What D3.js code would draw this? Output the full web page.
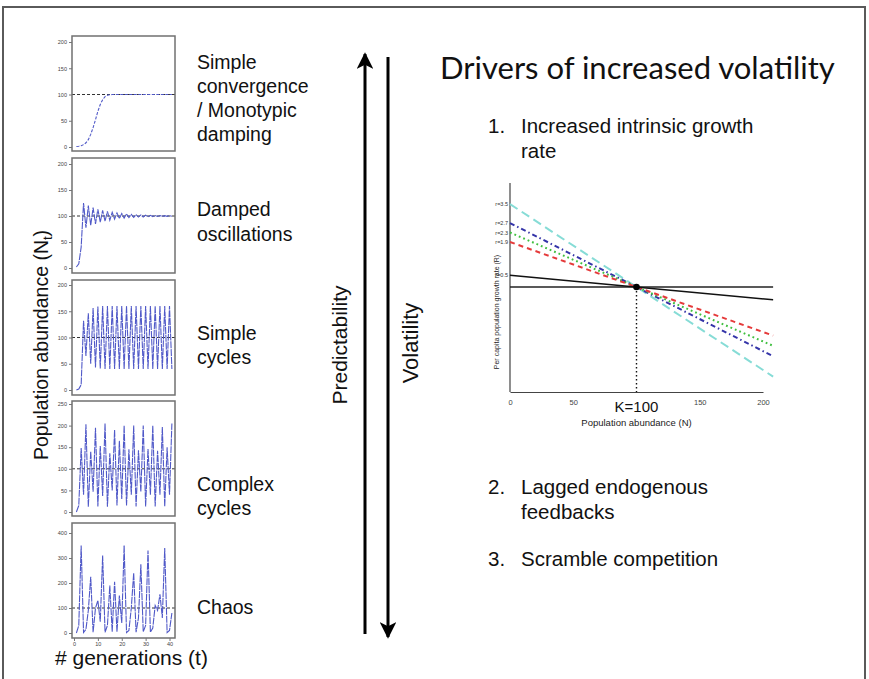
<!DOCTYPE html>
<html><head><meta charset="utf-8">
<script src="https://cdn.jsdelivr.net/npm/d3@7"></script>
<style>body{margin:0;background:#fff}svg{display:block}</style>
</head><body>
<script>
// ---------- DATA ----------
const generations = d3.range(1, 42); // t = 1..41
const convergence = [1,1.5,2.5,4.5,8,14,24,37,52,68,81,90,96,98.5,99.5,100,100,100,100,100,100,100,100,100,100,100,100,100,100,100,100,100,100,100,100,100,100,100,100,100,100];
const damped = [2,8,40,125,77.5,120,82,116,85,113,88,111,90,109,92,107,94,106,95,105,96,104,97,103,97.3,102.5,98,102,98.2,101.6,98.6,101.3,98.9,101,99.1,100.8,99.3,100.7,99.4,100.5,99.5];
const simpleCycles = [0,2,10,132,65,146,50,156,43,159,41,160,40,160,40,160,40,160,40,160,40,160,40,160,40,160,40,160,40,160,40,160,40,160,40,160,40,160,40,160,40];
const complexCycles = [0,15,148,40,203,12,140,47,195,13,153,37,205,12,136,50,190,15,165,30,200,15,145,40,200,13,143,47,200,13,146,40,200,13,142,40,197,13,150,40,205];
const chaos = [0,30,350,2,15,90,225,3,100,130,45,310,3,30,190,5,205,5,150,40,350,2,10,100,240,3,60,275,5,30,330,3,20,110,90,155,60,340,2,10,80];
const panelSeries = [convergence, damped, simpleCycles, complexCycles, chaos];
const panelLabels = [["Simple","convergence","/ Monotypic","damping"],["Damped","oscillations"],["Simple","cycles"],["Complex","cycles"],["Chaos"]];
const panelTicks = [[0,50,100,150,200],[0,50,100,150,200],[0,50,100,150,200],[0,50,100,150,200,250],[0,100,200,300,400]];
const panelTickMax = [200,200,200,250,400];
const equilibrium = 100;
const genTicks = [0,10,20,30,40];

// right chart
const growthRates = [3.5, 2.7, 2.3, 1.9, 0.5];
const rLabels = ["r=3.5","r=2.7","r=2.3","r=1.9","r=0.5"];
const lineN = [0, 208];
const lineR = {3.5:[3.5,-3.78], 2.7:[2.7,-2.92], 2.3:[2.3,-2.48], 1.9:[1.9,-2.05], 0.5:[0.5,-0.54]};
const K = 100;
const nTicks = [0,50,100,150,200];
const drivers = [["1.",["Increased intrinsic growth","rate"]],["2.",["Lagged endogenous","feedbacks"]],["3.",["Scramble competition"]]];

// ---------- STYLE / LAYOUT ----------
const W = 869, H = 679;
const FONT = "'Liberation Sans', Arial, Helvetica, sans-serif";
const svg = d3.select("body").append("svg").attr("width", W).attr("height", H)
  .style("font-family", FONT);

svg.append("rect").attr("x",3).attr("y",7).attr("width",862).attr("height",720)
  .attr("fill","none").attr("stroke","#5a5a5a").attr("stroke-width",2);

// panel layout: [boxTop, boxBottom, yTopTick, yZero]
const panelLayout = [[36,151,42,147],[158,273,164,268],[280,395,285,390],[401,516,404,512],[523,638,533,633]];
const labelBaselines = [[69,93,117,141],[216,241],[340,364],[491,515],[614]];
const boxLeft = 72, boxRight = 175;
const x = d3.scaleLinear().domain([0,40]).range([74,169.5]);

panelSeries.forEach((vals, i) => {
  const [bt, bb, yt, y0] = panelLayout[i];
  const y = d3.scaleLinear().domain([0, panelTickMax[i]]).range([y0, yt]);
  const g = svg.append("g");
  const ax = d3.axisLeft(y).tickValues(panelTicks[i]).tickSize(3).tickPadding(2);
  const axg = g.append("g").attr("transform", `translate(${boxLeft},0)`).call(ax);
  axg.select(".domain").remove();
  axg.selectAll("line").attr("stroke","#777");
  axg.selectAll("text").attr("font-size",5.5).attr("fill","#444").style("font-family",FONT);
  g.append("line").attr("x1",boxLeft).attr("x2",boxRight).attr("y1",y(equilibrium)).attr("y2",y(equilibrium))
    .attr("stroke","#333").attr("stroke-width",1).attr("stroke-dasharray","3,2");
  const line = d3.line().x((d,j)=>x(generations[j])).y(d=>y(d));
  g.append("path").datum(vals).attr("d", line).attr("fill","none")
    .attr("stroke","#5059c8").attr("stroke-width",1.1).attr("stroke-dasharray", i===0 ? "3,1.5" : "7,0.8");
  g.append("rect").attr("x",boxLeft).attr("y",bt).attr("width",boxRight-boxLeft).attr("height",bb-bt)
    .attr("fill","none").attr("stroke","#707070").attr("stroke-width",1.5);
  panelLabels[i].forEach((t,k)=>{
    svg.append("text").attr("x",197).attr("y",labelBaselines[i][k]).attr("font-size",19.5).attr("fill","#111").text(t);
  });
});
{
  const ax = d3.axisBottom(x).tickValues(genTicks).tickSize(3).tickPadding(1);
  const axg = svg.append("g").attr("transform",`translate(0,${panelLayout[4][1]})`).call(ax);
  axg.select(".domain").remove();
  axg.selectAll("line").attr("stroke","#777");
  axg.selectAll("text").attr("font-size",5.5).attr("fill","#444").style("font-family",FONT);
}
svg.append("text").attr("x",55).attr("y",665).attr("font-size",21).attr("fill","#111").text("# generations (t)");
{
  const t = svg.append("text").attr("transform","translate(48,345) rotate(-90)").attr("text-anchor","middle")
    .attr("font-size",19.5).attr("fill","#111");
  t.append("tspan").text("Population abundance (N");
  t.append("tspan").attr("font-size",13).attr("dy",4).text("t");
  t.append("tspan").attr("dy",-4).text(")");
}

// arrows
svg.append("defs").html(`
<marker id="ah" viewBox="0 0 10 10" refX="9" refY="5" markerWidth="6" markerHeight="5.5" orient="auto-start-reverse" markerUnits="strokeWidth">
<path d="M0,0 L10,5 L0,10 L2.5,5 z" fill="#000"/></marker>`);
svg.append("line").attr("x1",365).attr("y1",634).attr("x2",365).attr("y2",54)
  .attr("stroke","#000").attr("stroke-width",3).attr("marker-end","url(#ah)");
svg.append("line").attr("x1",388).attr("y1",57).attr("x2",388).attr("y2",637)
  .attr("stroke","#000").attr("stroke-width",3).attr("marker-end","url(#ah)");
svg.append("text").attr("transform","translate(347,345) rotate(-90)").attr("text-anchor","middle")
  .attr("font-size",21).attr("fill","#111").text("Predictability");
svg.append("text").attr("transform","translate(418,343) rotate(-90)").attr("text-anchor","middle")
  .attr("font-size",22).attr("fill","#111").text("Volatility");

// title
svg.append("text").attr("x",440).attr("y",79).attr("font-size",31).attr("fill","#111")
  .style("font-family","Lato, 'Open Sans', sans-serif").text("Drivers of increased volatility");

// drivers list
const driverBaselines = [[133,158],[494,519],[566]];
drivers.forEach((d,i)=>{
  svg.append("text").attr("x",488).attr("y",driverBaselines[i][0]).attr("font-size",20.5).attr("fill","#111").text(d[0]);
  d[1].forEach((t,k)=>svg.append("text").attr("x",521).attr("y",driverBaselines[i][k]).attr("font-size",20.5).attr("fill","#111").text(t));
});

// right chart
const xN = d3.scaleLinear().domain([0,200]).range([510,763]);
const yR = d3.scaleLinear().domain([-4.43,4.39]).range([392,183]);
const rc = svg.append("g");
rc.append("line").attr("x1",xN(0)).attr("x2",xN(0)).attr("y1",yR(4.39)).attr("y2",yR(-4.43)).attr("stroke","#444").attr("stroke-width",1.2);
{
  const ax = d3.axisBottom(xN).tickValues(nTicks).tickSize(0).tickPadding(8).tickFormat(d=> d===K ? "" : d);
  const axg = rc.append("g").attr("transform",`translate(0,${yR(-4.43)})`).call(ax);
  axg.select(".domain").attr("stroke","#444").attr("stroke-width",1.2);
  axg.selectAll("text").attr("font-size",7.5).attr("fill","#444").style("font-family",FONT);
}
rc.append("text").attr("x",xN(K)).attr("y",412).attr("text-anchor","middle").attr("font-size",15).attr("fill","#111").text("K=" + K);
rc.append("text").attr("x",xN(100)).attr("y",426).attr("text-anchor","middle").attr("font-size",9.5).attr("fill","#222").text("Population abundance (N)");
rc.append("text").attr("transform",`translate(499,312) rotate(-90)`).attr("text-anchor","middle")
  .attr("font-size",7).attr("fill","#222").text("Per capita population growth rate (R)");
rc.append("line").attr("x1",xN(0)).attr("x2",xN(lineN[1])).attr("y1",yR(0)).attr("y2",yR(0)).attr("stroke","#222").attr("stroke-width",1.5);
rc.append("line").attr("x1",xN(K)).attr("x2",xN(K)).attr("y1",yR(0)).attr("y2",yR(-4.43)).attr("stroke","#111").attr("stroke-width",1.4).attr("stroke-dasharray","1.5,2.5");
const styles = {3.5:["#86dcd6","9,5"], 2.7:["#3434a8","5,3,1.5,3"], 2.3:["#3fbf3f","1.8,3"], 1.9:["#e53a3a","5,4"], 0.5:["#111",null]};
const lineGen = d3.line().x((d,j)=>xN(lineN[j])).y(d=>yR(d));
growthRates.forEach((r,i)=>{
  const p = rc.append("path").datum(lineR[r]).attr("d",lineGen).attr("fill","none")
    .attr("stroke",styles[r][0]).attr("stroke-width", r===0.5?1.5:2);
  if (styles[r][1]) p.attr("stroke-dasharray",styles[r][1]);
  rc.append("text").attr("x",508).attr("y",yR(r)+2).attr("text-anchor","end").attr("font-size",5.5).attr("fill","#333").text(rLabels[i]);
});
rc.append("circle").attr("cx",xN(K)).attr("cy",yR(0)).attr("r",3.3).attr("fill","#000");
</script>
</body></html>
